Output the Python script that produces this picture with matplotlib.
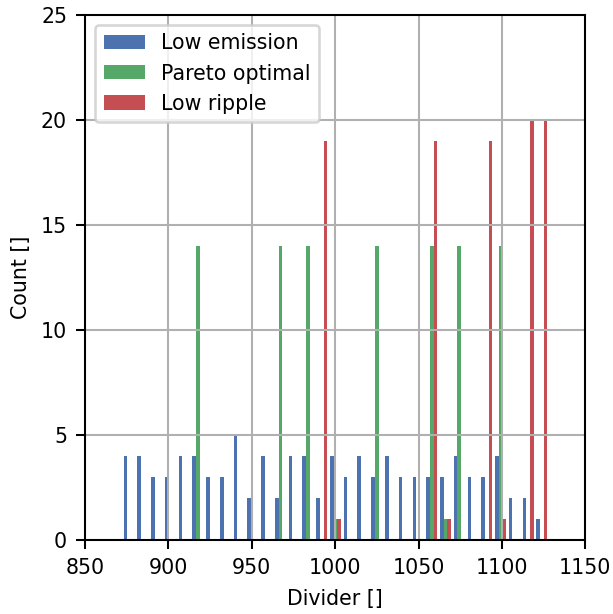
import matplotlib.pyplot as plt
import numpy as np

# Histogram counts per bin for each design family (31 shared bins)
BIN_LO, BIN_HI, N_BINS = 872.3, 1128.0, 31

low_emission = [4, 4, 3, 3, 4, 4, 3, 3, 5, 2, 4, 2, 4, 4, 2, 4,
                3, 4, 3, 4, 3, 3, 3, 3, 4, 3, 3, 4, 2, 2, 1]
pareto_optimal = [0, 0, 0, 0, 0, 14, 0, 0, 0, 0, 0, 14, 0, 14, 0, 1,
                  0, 0, 14, 0, 0, 0, 14, 1, 14, 0, 0, 14, 0, 0, 0]
low_ripple = [0, 0, 0, 0, 0, 0, 0, 0, 0, 0, 0, 0, 0, 0, 19, 1,
              0, 0, 0, 0, 0, 0, 19, 1, 0, 0, 19, 1, 0, 20, 20]

SERIES = [
    ("Low emission", low_emission, "#4C72B0"),
    ("Pareto optimal", pareto_optimal, "#55A868"),
    ("Low ripple", low_ripple, "#C44E52"),
]

plt.rcParams["font.size"] = 8

DPI = 185
fig = plt.figure(figsize=(613.4 / DPI, 614.4 / DPI), dpi=DPI)
ax = fig.add_axes([0.1387, 0.1205, 0.8156, 0.8551])

edges = np.linspace(BIN_LO, BIN_HI, N_BINS + 1)
centers = 0.5 * (edges[:-1] + edges[1:])
binw = edges[1] - edges[0]

# same side-by-side layout as hist(histtype="bar") with several datasets
dr = 0.8
width = dr * binw / len(SERIES)
offset = -0.5 * dr * binw + 0.5 * width
for k, (label, counts, color) in enumerate(SERIES):
    ax.bar(centers + offset + k * width, counts, width=width,
           color=color, label=label, linewidth=0)

ax.set_xlim(850, 1150)
ax.set_ylim(0, 25)
ax.set_xticks(np.arange(850, 1151, 50))
ax.set_yticks(np.arange(0, 26, 5))
ax.grid(True)
ax.set_xlabel("Divider []")
ax.set_ylabel("Count []")
ax.legend(loc="upper left")

fig.savefig("out.png", dpi=DPI)
